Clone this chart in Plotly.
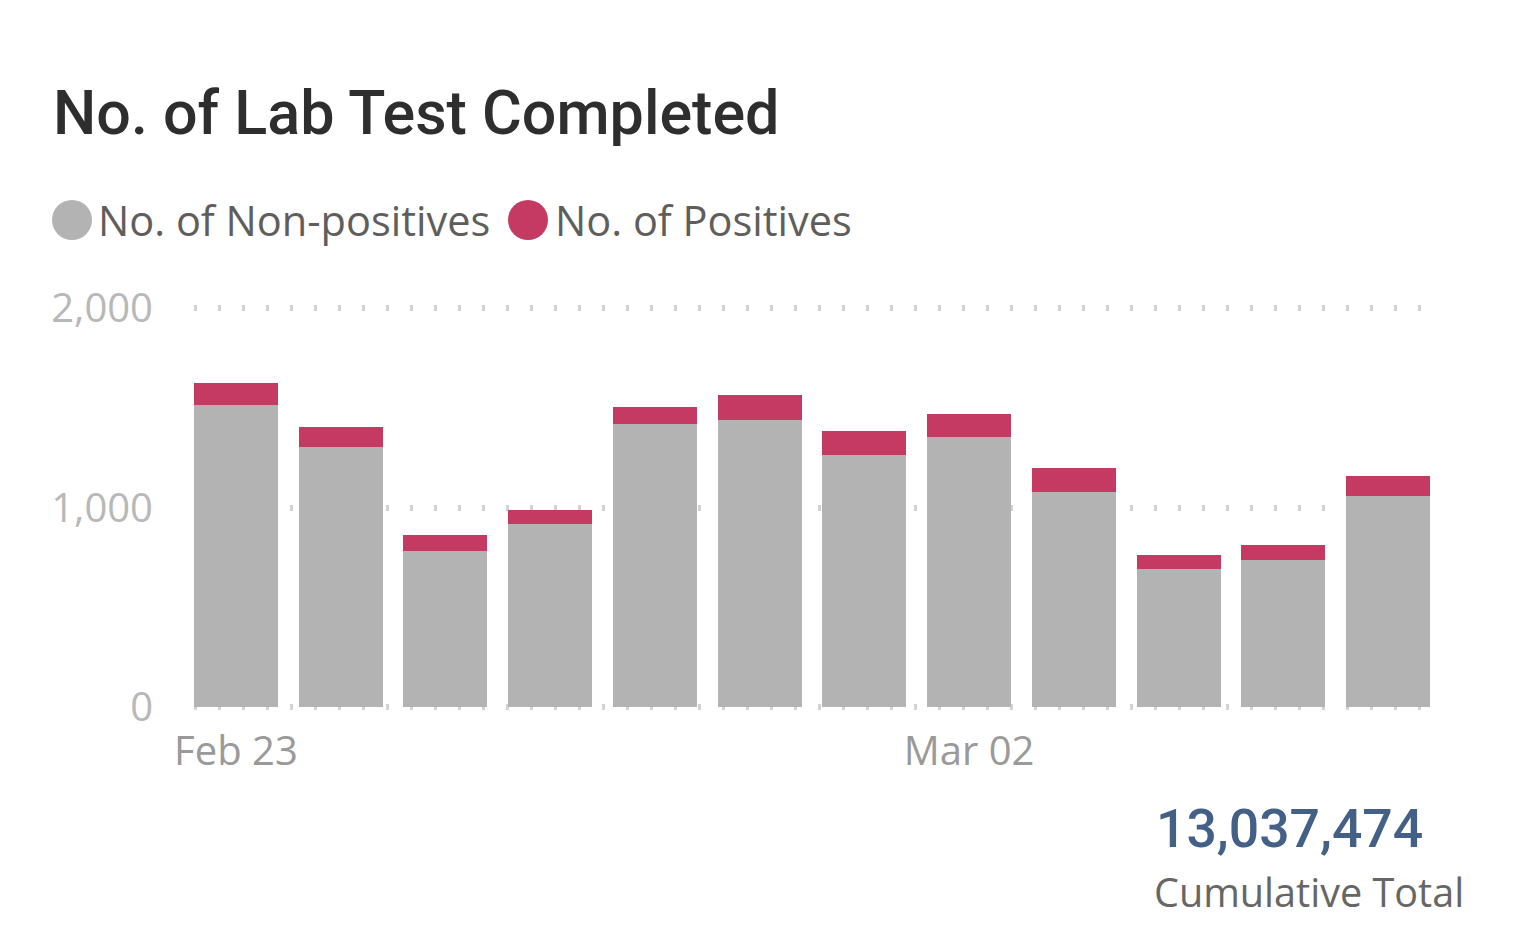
import plotly.graph_objects as go

# ---- data ----
dates = ["2021-02-23", "2021-02-24", "2021-02-25", "2021-02-26", "2021-02-27", "2021-02-28",
         "2021-03-01", "2021-03-02", "2021-03-03", "2021-03-04", "2021-03-05", "2021-03-06"]
non_positives = [1515, 1305, 780, 915, 1420, 1440, 1265, 1355, 1080, 690, 735, 1060]
positives = [110, 100, 80, 70, 85, 125, 120, 115, 120, 70, 75, 100]
series_names = ["No. of Non-positives", "No. of Positives"]
series_colors = ["#B3B3B3", "#C43A62"]
y_ticks = [0, 1000, 2000]
x_ticks = ["2021-02-23", "2021-03-02"]
title_text = "No. of Lab Test Completed"
cumulative_total = 13037474
cumulative_label = "Cumulative Total"

# ---- layout geometry (pixels, in page coordinates) ----
OFF = 8                      # default page body margin
W, H = 1516 - OFF, 928 - OFF
Y0, Y2000 = 707, 308         # pixel positions of 0 and 2000
YPAD = 15                    # extra units above/below so edge gridlines are drawn
scale = (Y0 - Y2000) / 2000.0
PL, PR = 194, 1430
PB = Y0 + YPAD * scale
PT = Y2000 - YPAD * scale

def px_x(px):
    return (px - PL) / (PR - PL)

def px_y(py):
    return (PB - py) / (PB - PT)

SEGOE = "Open Sans, Noto Sans, sans-serif"
DIN = "Roboto, DejaVu Sans, sans-serif"

fig = go.Figure()
fig.add_trace(go.Bar(x=dates, y=non_positives, name=series_names[0],
                     marker=dict(color=series_colors[0], line=dict(width=0)), showlegend=False))
fig.add_trace(go.Bar(x=dates, y=positives, name=series_names[1],
                     marker=dict(color=series_colors[1], line=dict(width=0)), showlegend=False))

fig.update_layout(
    width=W, height=H,
    barmode="stack", bargap=0.2,
    paper_bgcolor="white", plot_bgcolor="white",
    margin=dict(l=PL - OFF, r=(W + OFF) - PR, t=PT - OFF, b=(H + OFF) - PB, pad=0),
    title=dict(text=title_text, x=(53 - OFF) / W, xanchor="left", xref="container",
               y=1 - (113 - OFF) / H, yanchor="middle", yref="container",
               font=dict(family=DIN, size=61, color="#2E2E2E", weight=500)),
    xaxis=dict(type="date", range=["2021-02-22 14:24", "2021-03-06 09:36"],
               tickvals=x_ticks, tickformat="%b %d", showgrid=False, zeroline=False,
               showline=False, ticks="", ticklabelstandoff=14,
               tickfont=dict(family=SEGOE, size=40, color="#9A9A9A")),
    yaxis=dict(range=[-YPAD, 2000 + YPAD], tickvals=y_ticks, tickformat=",d", showgrid=True,
               gridcolor="#D2D2D2", gridwidth=6, griddash="3px,21px", zeroline=False,
               showline=False, ticks="", ticklabelstandoff=40,
               tickfont=dict(family=SEGOE, size=40, color="#B8B8B8")),
    showlegend=False,
)

# ---- custom legend (large circles) ----
legend_items = [(72, 96), (528, 553)]
shapes = []
annotations = []
for (cx, tx), name, color in zip(legend_items, series_names, series_colors):
    shapes.append(dict(type="circle", xref="paper", yref="paper", xsizemode="pixel",
                       ysizemode="pixel", xanchor=px_x(cx), yanchor=px_y(220),
                       x0=-20, x1=20, y0=-20, y1=20,
                       fillcolor=color, line=dict(width=0)))
    annotations.append(dict(text=name, xref="paper", yref="paper", x=px_x(tx), y=px_y(220),
                            xanchor="left", yanchor="middle", showarrow=False,
                            font=dict(family=SEGOE, size=41.5, color="#605E5C")))

annotations.append(dict(text=f"{cumulative_total:,}", xref="paper", yref="paper",
                        x=px_x(1425), y=px_y(828), xanchor="right", yanchor="middle",
                        showarrow=False,
                        font=dict(family=DIN, size=53.5, color="#436087", weight=500)))
annotations.append(dict(text=cumulative_label, xref="paper", yref="paper",
                        x=px_x(1466), y=px_y(892), xanchor="right", yanchor="middle",
                        showarrow=False, font=dict(family=SEGOE, size=39.6, color="#666666")))

fig.update_layout(shapes=shapes, annotations=annotations)
fig.write_html("out.html")
